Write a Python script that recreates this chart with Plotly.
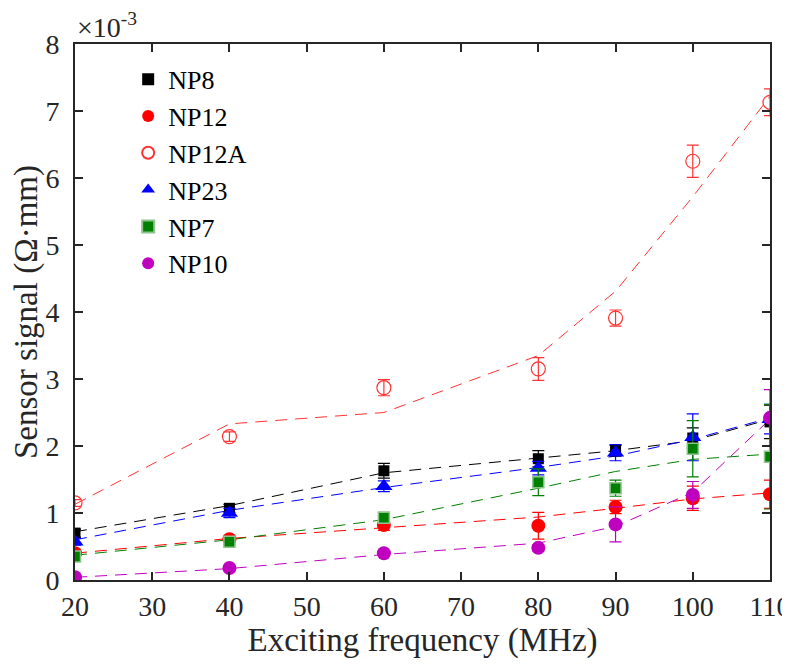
import plotly.graph_objects as go

# Data (signal values in units of 1e-3 Ω·mm)
freq = [20, 40, 60, 80, 90, 100, 110]

names = ["NP8", "NP12", "NP12A", "NP23", "NP7", "NP10"]

np8 = [0.70, 1.07, 1.63, 1.81, 1.93, 2.12, 2.36]
np8_err = [0.06, 0.06, 0.11, 0.12, 0.08, 0.15, 0.25]
np8_fit = [0.72, 1.11, 1.60, 1.82, 1.93, 2.08, 2.40]

np12 = [0.40, 0.61, 0.82, 0.81, 1.09, 1.22, 1.28]
np12_err = [0.05, 0.05, 0.08, 0.20, 0.10, 0.18, 0.21]
np12_fit = [0.40, 0.62, 0.78, 0.94, 1.07, 1.21, 1.30]

np12a = [1.15, 2.14, 2.87, 3.15, 3.91, 6.25, 7.13]
np12a_err = [0.05, 0.07, 0.12, 0.17, 0.12, 0.24, 0.20]
np12a_fit = [1.13, 2.33, 2.50, 3.35, 4.31, 5.72, 7.22]

np23 = [0.57, 1.00, 1.40, 1.67, 1.90, 2.13, 2.40]
np23_err = [0.05, 0.07, 0.08, 0.10, 0.12, 0.35, 0.22]
np23_fit = [0.60, 1.04, 1.38, 1.68, 1.85, 2.10, 2.42]

np7 = [0.35, 0.57, 0.93, 1.46, 1.37, 1.96, 1.84]
np7_err = [0.04, 0.04, 0.08, 0.20, 0.12, 0.42, 0.78]
np7_fit = [0.37, 0.60, 0.90, 1.37, 1.62, 1.80, 1.88]

np10 = [0.04, 0.18, 0.40, 0.48, 0.83, 1.27, 2.42]
np10_err = [0.02, 0.03, 0.03, 0.05, 0.26, 0.20, 0.42]
np10_fit = [0.04, 0.17, 0.38, 0.55, 0.80, 1.31, 2.40]

x_ticks = [20, 30, 40, 50, 60, 70, 80, 90, 100, 110]
y_ticks = [0, 1, 2, 3, 4, 5, 6, 7, 8]

series = [
    (names[0], np8, np8_err, np8_fit, "#000000",
     dict(symbol="square", size=11, color="#000000", line=dict(width=0))),
    (names[1], np12, np12_err, np12_fit, "#ff0000",
     dict(symbol="circle", size=14, color="#ff0000", line=dict(width=0))),
    (names[2], np12a, np12a_err, np12a_fit, "#ff3333",
     dict(symbol="circle-open", size=14, color="#ff3333", line=dict(width=1.2))),
    (names[3], np23, np23_err, np23_fit, "#0000ff",
     dict(symbol="triangle-up", size=15, color="#0000ff", line=dict(width=0))),
    (names[4], np7, np7_err, np7_fit, "#008000",
     dict(symbol="square", size=11, color="#008000", line=dict(width=1.5, color="#8cc48c"))),
    (names[5], np10, np10_err, np10_fit, "#bf00bf",
     dict(symbol="circle", size=14, color="#bf00bf", line=dict(width=0))),
]

fig = go.Figure()

# dashed fit lines
for name, y, err, fit, col, mk in series:
    fig.add_trace(go.Scatter(
        x=freq, y=fit, mode="lines", showlegend=False, hoverinfo="skip",
        line=dict(color=col, width=1, dash="12px,8px")))

# markers with error bars
for name, y, err, fit, col, mk in series:
    fig.add_trace(go.Scatter(
        x=freq, y=y, mode="markers", name=name, marker=mk,
        error_y=dict(type="data", array=err, visible=True, color=col,
                     thickness=1.2, width=6)))

SERIF = "Liberation Serif"
INK = "#262626"

# the page body adds an 8px offset, so the figure is sized to fit the window
fig.update_layout(
    width=782, height=658,
    margin=dict(l=67, r=20, t=36, b=86, autoexpand=False),
    paper_bgcolor="white", plot_bgcolor="white",
    font=dict(family=SERIF, size=28, color=INK),
    xaxis=dict(
        range=[20, 110], tickvals=x_ticks, ticktext=[str(v) for v in x_ticks],
        ticks="inside", ticklen=8, tickwidth=2, tickcolor=INK,
        showline=True, linewidth=2, linecolor=INK, mirror="ticks",
        showgrid=False, zeroline=False, ticklabeloverflow="allow",
        automargin=False,
        title=dict(text="Exciting frequency (MHz)",
                   font=dict(family=SERIF, size=33, color=INK), standoff=2),
        tickfont=dict(family=SERIF, size=28, color=INK)),
    yaxis=dict(
        range=[0, 8], tickvals=y_ticks, ticktext=[str(v) for v in y_ticks],
        ticks="inside", ticklen=8, tickwidth=2, tickcolor=INK,
        showline=True, linewidth=2, linecolor=INK, mirror="ticks",
        showgrid=False, zeroline=False, ticklabelstandoff=8,
        ticklabeloverflow="allow", automargin=False,
        title=dict(text="Sensor signal (Ω·mm)",
                   font=dict(family=SERIF, size=33, color=INK), standoff=6),
        tickfont=dict(family=SERIF, size=28, color=INK)),
    legend=dict(x=0.0765, y=0.978, xanchor="left", yanchor="top",
                bgcolor="rgba(0,0,0,0)",
                font=dict(family=SERIF, size=26, color="#000000"),
                itemsizing="constant", tracegroupgap=0),
    annotations=[dict(
        text="×10<sup>-3</sup>", xref="paper", yref="paper", x=0.0, y=1.0,
        xanchor="left", yanchor="bottom", showarrow=False, yshift=-1,
        font=dict(family=SERIF, size=28, color=INK))],
)

fig.write_html("out.html")
